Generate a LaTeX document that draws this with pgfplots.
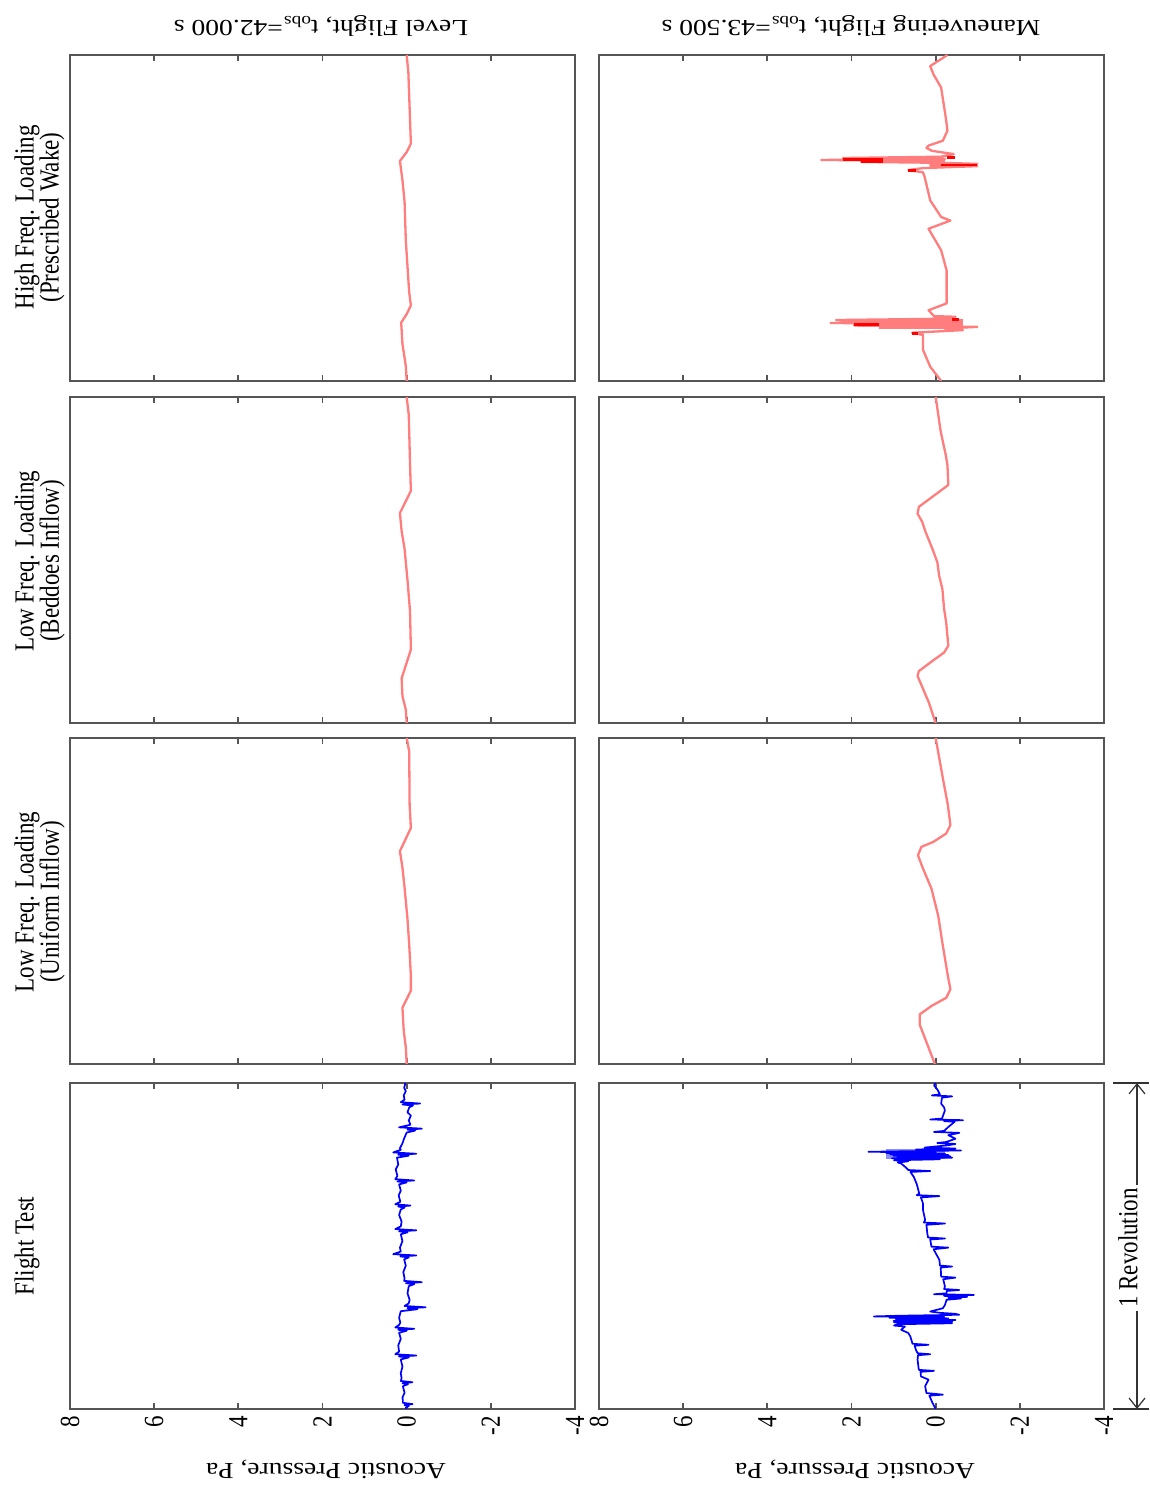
\documentclass[border=0pt]{standalone}
\usepackage{fontspec}
\setmainfont{Liberation Serif}
\usepackage{pgfplots}
\pgfplotsset{compat=1.18}
\usetikzlibrary{arrows.meta}
\definecolor{axgray}{RGB}{85,85,85}
\definecolor{lred}{RGB}{255,125,125}
\definecolor{fblue}{RGB}{0,0,255}
\definecolor{lblue}{RGB}{140,140,255}
\newcommand\lbl{\fontsize{11.5}{12}\selectfont}
\pgfplotsset{
 panel/.style={scale only axis, width=252.5pt, height=163pt, anchor=south west,
  xmin=-4, xmax=8, x dir=reverse, ymin=0, ymax=1,
  xtick={-4,-2,0,2,4,6,8}, ytick=\empty, xtick pos=both, tick align=inside,
  major tick length=3pt, xticklabels={},
  axis line style={draw=axgray, line width=1pt},
  every tick/.style={draw=axgray, line width=0.9pt}},
 labeled/.style={xticklabels={-4,-2,0,2,4,6,8}, xticklabel pos=lower,
  xticklabel style={font=\lbl, xscale=1.2, rotate=90, anchor=east}},
 redline/.style={lred, line width=1.15pt, line join=round},
 darkred/.style={red, line width=1.3pt},
 blueline/.style={fblue, line width=0.85pt, line join=round},
}
\begin{document}
\begin{tikzpicture}
\path (0,0) rectangle (574.5pt,744pt);
% ---------- Row 1: High Freq. Loading (Prescribed Wake)
\begin{axis}[panel, at={(35pt,553.5pt)}]
\addplot[redline] coordinates {(0,1)(-0.04,0.947)(-0.08,0.801)(-0.10,0.728)(0,0.702)(0.16,0.675)(0.1,0.616)(0.05,0.55)(0.02,0.43)(-0.06,0.272)(-0.10,0.232)(0,0.205)(0.13,0.179)(0.1,0.113)(0.02,0.046)(0,0)};
\end{axis}
\begin{axis}[panel, at={(299.5pt,553.5pt)}]
\addplot[lred, fill=lred, draw=none] coordinates {(1.25,0.685)(-0.22,0.685)(-0.22,0.669)(1.25,0.669)} -- cycle;
\addplot[lred, fill=lred, draw=none] coordinates {(1.34,0.190)(-0.65,0.190)(-0.65,0.160)(1.34,0.160)} -- cycle;
\addplot[redline] coordinates {(-0.28,1.000)(0.13,0.966)(0.05,0.94)(-0.13,0.900)(-0.24,0.808)(-0.28,0.768)(-0.17,0.737)(0.17,0.722)(0.22,0.715)(0.09,0.706)(-0.43,0.696)(-0.13,0.688)(2.20,0.684)(-0.22,0.681)(2.72,0.678)(-0.04,0.675)(1.77,0.672)(-0.22,0.669)(-0.99,0.666)(0.13,0.662)(-0.99,0.659)(0.30,0.653)(0.65,0.647)(0.30,0.640)(0.26,0.625)(0.13,0.554)(-0.13,0.503)(-0.35,0.492)(0.17,0.467)(-0.13,0.401)(-0.26,0.339)(-0.26,0.238)(0.17,0.217)(0.04,0.199)(-0.47,0.197)(-0.22,0.191)(2.37,0.187)(-0.56,0.181)(2.50,0.178)(-0.39,0.174)(1.94,0.170)(-0.99,0.166)(-0.22,0.161)(-0.65,0.156)(0.56,0.148)(0.30,0.141)(0.30,0.095)(0.13,0.044)(-0.13,0.000)};
\addplot[darkred] coordinates {(2.20,0.680)(1.25,0.680)};
\addplot[darkred] coordinates {(1.77,0.673)(1.25,0.673)};
\addplot[darkred] coordinates {(-0.13,0.663)(-0.99,0.663)};
\addplot[darkred] coordinates {(-0.26,0.686)(-0.47,0.686)};
\addplot[darkred] coordinates {(0.65,0.645)(0.47,0.645)};
\addplot[darkred] coordinates {(1.94,0.174)(1.34,0.174)};
\addplot[darkred] coordinates {(-0.39,0.188)(-0.56,0.188)};
\addplot[darkred] coordinates {(0.56,0.146)(0.43,0.146)};
\end{axis}
% ---------- Row 2: Low Freq. Loading (Beddoes Inflow)
\begin{axis}[panel, at={(35pt,382.5pt)}]
\addplot[redline] coordinates {(0,1)(-0.05,0.945)(-0.08,0.795)(-0.10,0.712)(0.16,0.644)(0.12,0.589)(0.05,0.534)(-0.02,0.438)(-0.08,0.342)(-0.10,0.225)(0.12,0.137)(0.1,0.082)(0.02,0.041)(0,0)};
\end{axis}
\begin{axis}[panel, at={(299.5pt,382.5pt)}]
\addplot[redline] coordinates {(0,1.0)(-0.12,0.894)(-0.24,0.822)(-0.28,0.791)(-0.30,0.730)(0.40,0.663)(0.43,0.642)(0.32,0.617)(0.24,0.586)(0.08,0.535)(-0.04,0.493)(-0.08,0.453)(-0.16,0.411)(-0.20,0.350)(-0.25,0.308)(-0.30,0.237)(-0.2,0.216)(0.08,0.19)(0.40,0.159)(0.43,0.144)(0.36,0.123)(0.16,0.062)(0,0)};
\end{axis}
% ---------- Row 3: Low Freq. Loading (Uniform Inflow)
\begin{axis}[panel, at={(35pt,212pt)}]
\addplot[redline] coordinates {(0,1)(-0.06,0.959)(-0.07,0.796)(-0.10,0.724)(0.16,0.653)(0.1,0.602)(0.05,0.541)(-0.02,0.444)(-0.06,0.367)(-0.10,0.270)(-0.10,0.225)(0.1,0.173)(0.07,0.102)(0.02,0.051)(0,0)};
\end{axis}
\begin{axis}[panel, at={(299.5pt,212pt)}]
\addplot[redline] coordinates {(0,1.0)(-0.17,0.877)(-0.29,0.794)(-0.35,0.733)(-0.25,0.707)(0.06,0.681)(0.34,0.666)(0.42,0.640)(0.30,0.599)(0.10,0.538)(-0.06,0.455)(-0.17,0.363)(-0.29,0.270)(-0.35,0.229)(-0.25,0.203)(0.10,0.178)(0.38,0.152)(0.38,0.121)(0.18,0.054)(0.02,0)};
\end{axis}
% ---------- Row 4: Flight Test
\begin{axis}[panel, labeled, at={(35pt,39.5pt)}]
\addplot[blueline] coordinates {(0.03,1.000)(0.06,0.985)(0.02,0.975)(0.07,0.962)(0.05,0.949)(0.14,0.941)(-0.32,0.937)(0.10,0.934)(-0.15,0.931)(-0.06,0.925)(-0.02,0.910)(-0.10,0.900)(-0.05,0.885)(-0.09,0.872)(0.18,0.864)(-0.36,0.860)(-0.02,0.857)(-0.20,0.854)(0.00,0.848)(0.06,0.830)(0.10,0.815)(0.16,0.800)(0.14,0.795)(0.32,0.787)(-0.23,0.783)(0.20,0.780)(-0.05,0.777)(0.23,0.771)(0.20,0.750)(0.26,0.735)(0.22,0.715)(0.27,0.705)(-0.18,0.701)(0.22,0.698)(0.00,0.695)(0.18,0.689)(0.14,0.670)(0.19,0.655)(0.15,0.636)(0.27,0.628)(-0.09,0.624)(0.20,0.621)(0.05,0.618)(0.14,0.612)(0.18,0.595)(0.12,0.575)(0.14,0.560)(0.27,0.552)(-0.23,0.548)(0.18,0.545)(-0.02,0.542)(0.14,0.536)(0.10,0.515)(0.16,0.495)(0.14,0.483)(0.32,0.475)(-0.23,0.471)(0.15,0.468)(-0.05,0.465)(0.06,0.459)(0.02,0.440)(0.08,0.420)(0.05,0.401)(0.06,0.393)(-0.36,0.389)(0.02,0.386)(-0.18,0.383)(-0.05,0.377)(-0.02,0.355)(-0.07,0.335)(-0.05,0.324)(0.05,0.316)(-0.45,0.312)(-0.02,0.309)(-0.25,0.306)(0.14,0.300)(0.18,0.280)(0.15,0.265)(0.18,0.258)(0.27,0.250)(-0.18,0.246)(0.20,0.243)(0.00,0.240)(0.18,0.234)(0.14,0.215)(0.20,0.195)(0.18,0.176)(0.27,0.168)(-0.23,0.164)(0.18,0.161)(-0.05,0.158)(0.14,0.152)(0.10,0.130)(0.14,0.110)(0.12,0.094)(0.14,0.086)(-0.14,0.082)(0.10,0.079)(-0.03,0.076)(0.09,0.070)(0.05,0.050)(0.10,0.035)(0.09,0.027)(0.09,0.019)(-0.14,0.015)(0.05,0.012)(-0.05,0.009)(0.02,0.004)(0.00,0.000)};
\end{axis}
\begin{axis}[panel, labeled, at={(299.5pt,39.5pt)}]
\addplot[lblue, fill=lblue, draw=none] coordinates {(1.17,0.798)(-0.22,0.798)(-0.22,0.766)(1.17,0.766)} -- cycle;
\addplot[lblue, fill=lblue, draw=none] coordinates {(0.65,0.288)(-0.22,0.288)(-0.22,0.260)(0.65,0.260)} -- cycle;
\addplot[blueline] coordinates {(0.00,1.000)(0.04,0.993)(-0.05,0.978)(-0.10,0.965)(0.09,0.962)(-0.39,0.959)(-0.15,0.955)(-0.13,0.937)(-0.20,0.925)(-0.22,0.916)(-0.15,0.891)(0.13,0.888)(-0.65,0.886)(-0.20,0.883)(-0.45,0.881)(-0.30,0.865)(-0.20,0.853)(0.04,0.850)(-0.56,0.847)(-0.30,0.840)(-0.47,0.829)(-0.25,0.819)(-0.04,0.816)(-0.47,0.813)(-0.30,0.809)(0.26,0.802)(-0.47,0.799)(0.47,0.796)(-0.60,0.793)(1.60,0.789)(0.00,0.787)(1.17,0.785)(-0.22,0.783)(1.08,0.781)(-0.30,0.779)(1.00,0.777)(-0.35,0.775)(0.90,0.773)(-0.39,0.771)(1.04,0.769)(-0.10,0.766)(0.99,0.763)(0.65,0.760)(0.90,0.756)(0.82,0.753)(0.70,0.740)(0.65,0.733)(0.13,0.730)(0.60,0.727)(0.52,0.712)(0.45,0.690)(0.39,0.661)(0.45,0.656)(-0.09,0.653)(0.35,0.649)(0.30,0.630)(0.30,0.610)(0.25,0.580)(0.28,0.572)(-0.22,0.569)(0.22,0.565)(0.20,0.540)(0.18,0.526)(-0.22,0.523)(0.13,0.520)(0.10,0.498)(-0.30,0.495)(0.05,0.490)(-0.09,0.457)(-0.10,0.440)(-0.39,0.437)(-0.12,0.434)(-0.13,0.406)(-0.47,0.403)(-0.18,0.398)(-0.22,0.376)(-0.20,0.368)(-0.56,0.365)(-0.26,0.362)(-0.26,0.355)(0.04,0.352)(-0.91,0.350)(-0.20,0.347)(-0.75,0.344)(-0.30,0.341)(-0.60,0.339)(-0.26,0.335)(-0.22,0.319)(-0.17,0.309)(0.13,0.299)(-0.10,0.295)(-0.47,0.292)(-0.56,0.289)(0.90,0.286)(1.47,0.284)(-0.20,0.282)(1.10,0.280)(-0.30,0.278)(0.95,0.276)(-0.47,0.273)(1.00,0.270)(-0.40,0.268)(0.99,0.266)(-0.39,0.263)(0.91,0.260)(0.99,0.256)(0.73,0.253)(0.82,0.243)(0.65,0.233)(0.60,0.222)(0.55,0.200)(0.17,0.197)(0.50,0.194)(0.47,0.182)(0.43,0.171)(0.13,0.168)(0.42,0.165)(0.43,0.151)(0.40,0.120)(0.04,0.117)(0.36,0.114)(0.35,0.100)(0.17,0.090)(0.25,0.070)(0.22,0.049)(-0.17,0.044)(0.15,0.041)(0.08,0.020)(0.00,0.000)};
\end{axis}
% ---------- Titles and labels
\node[rotate=180, xscale=1.2, inner sep=0] at (160.5pt,731pt) {\lbl Level Flight, t\textsubscript{obs}=42.000 s};
\node[rotate=180, xscale=1.2, inner sep=0] at (425.5pt,731pt) {\lbl Maneuvering Flight, t\textsubscript{obs}=43.500 s};
\node[rotate=180, xscale=1.2, inner sep=0] at (163pt,9.5pt) {\lbl Acoustic Pressure, Pa};
\node[rotate=180, xscale=1.2, inner sep=0] at (427.5pt,9.5pt) {\lbl Acoustic Pressure, Pa};
\node[xscale=1.2, rotate=90, inner sep=0] at (13.5pt,635.25pt) {\lbl High Freq. Loading};
\node[xscale=1.2, rotate=90, inner sep=0] at (26pt,635.25pt) {\lbl (Prescribed Wake)};
\node[xscale=1.2, rotate=90, inner sep=0] at (13.5pt,463.5pt) {\lbl Low Freq. Loading};
\node[xscale=1.2, rotate=90, inner sep=0] at (26pt,463.5pt) {\lbl (Beddoes Inflow)};
\node[xscale=1.2, rotate=90, inner sep=0] at (13.5pt,293pt) {\lbl Low Freq. Loading};
\node[xscale=1.2, rotate=90, inner sep=0] at (26pt,293pt) {\lbl (Uniform Inflow)};
\node[xscale=1.2, rotate=90, inner sep=0] at (13.5pt,121pt) {\lbl Flight Test};
% ---------- 1 Revolution marker
\draw[black!80, line width=0.6pt] (556.5pt,202.5pt) -- (574.5pt,202.5pt);
\draw[black!80, line width=0.6pt] (556.5pt,39.5pt) -- (574.5pt,39.5pt);
\draw[black!80, line width=0.6pt, {Straight Barb[length=5pt,width=8pt]}-{Straight Barb[length=5pt,width=8pt]}] (568.5pt,202.5pt) -- (568.5pt,39.5pt);
\node[xscale=1.2, rotate=90, fill=white, inner sep=1.5pt] at (564pt,120pt) {\lbl 1 Revolution};
\end{tikzpicture}
\end{document}
